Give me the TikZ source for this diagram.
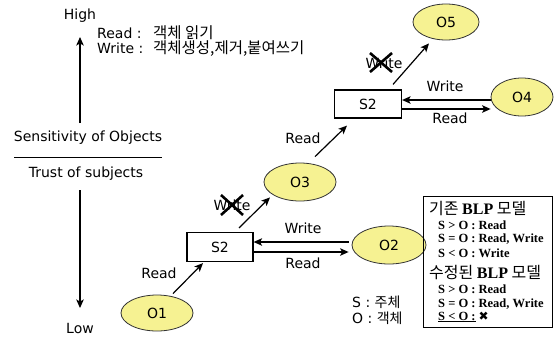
\documentclass[tikz,border=0pt]{standalone}
\usepackage{fontspec}
\setmainfont{DejaVu Sans}
\newfontfamily\krfont{Noto Sans CJK KR}
\newfontfamily\serf{Liberation Serif}
\usetikzlibrary{arrows.meta,shapes.geometric}
\definecolor{objfill}{RGB}{246,242,146}
\tikzset{
  lbl/.style={inner sep=0pt, font=\fontsize{14}{16}\selectfont},
  obj/.style={ellipse, draw=black!80, line width=0.8pt, fill=objfill,
    inner sep=0pt, font=\fontsize{14}{16}\selectfont},
  subj/.style={draw, line width=1.2pt, minimum width=66pt, minimum height=29pt,
    inner sep=0pt, font=\fontsize{14}{16}\selectfont},
  arr/.style={line width=1.2pt, -{Stealth[length=8.5pt,width=7.5pt,inset=2pt]}},
  xmark/.style={line width=2.6pt},
  legrow/.style={anchor=west, inner sep=0pt, font=\serf\bfseries\fontsize{12.5}{14}\selectfont},
  legtitle/.style={anchor=west, inner sep=0pt, font=\fontsize{16}{18}\selectfont},
}
\newcommand{\opkey}[1]{\makebox[56pt][l]{#1}}
\begin{document}
\begin{tikzpicture}[x=1pt,y=-1pt]
\path[use as bounding box] (0,0) rectangle (556,338);

% vertical axis
\node[lbl] (high) at (80,16) {High};
\node[lbl] (low) at (80,328) {Low};
\node[lbl] (sens) at (88,138) {Sensitivity of Objects};
\node[lbl] (trust) at (86,174) {Trust of subjects};
\draw[line width=1pt] (14,157) -- (162,157);
\coordinate (upfoot) at (80,123);
\coordinate (uptip) at (80,37);
\coordinate (downtop) at (80,190);
\coordinate (downtip) at (80,308);
\draw[arr] (upfoot) -- (uptip);
\draw[arr] (downtop) -- (downtip);

% access notes (anchored at the baseline of the last line)
\node[inner sep=0pt, anchor=base west, align=left,
  font=\fontsize{14}{13.5}\selectfont] (accnote) at (97,53.5)
  {\opkey{Read :}{\krfont\fontsize{15.5}{13.5}\selectfont 객체 읽기}\\
   \opkey{Write :}{\krfont\fontsize{15.5}{13.5}\selectfont 객체생성,제거,붙여쓰기}};

% objects and subjects
\node[obj, minimum width=72pt, minimum height=36pt] (o1) at (157,313) {O1};
\node[obj, minimum width=74pt, minimum height=38pt] (o2) at (389,245) {O2};
\node[obj, minimum width=72pt, minimum height=38pt] (o3) at (300,182) {O3};
\node[obj, minimum width=62pt, minimum height=38pt] (o4) at (522,97) {O4};
\node[obj, minimum width=66pt, minimum height=36pt] (o5) at (446,22) {O5};
\node[subj] (s2a) at (220,247) {S2};
\node[subj, minimum width=67pt, minimum height=28pt] (s2b) at (368,104) {S2};

% lower subject
\draw[arr] ([shift={(16,-1)}]o1.north) -- ([shift={(-17,1)}]s2a.south);
\node[lbl] (rdA) at (159,273) {Read};
\draw[arr, shorten >=3pt] ([yshift=-5]s2a.east) -- ([yshift=-5]s2a.east -| o2.west);
\draw[arr, shorten <=3pt] ([yshift=5]s2a.east -| o2.west) -- ([yshift=5]s2a.east);
\node[lbl] (wrB) at (303,228) {Write};
\node[lbl] (rdB) at (303,263) {Read};
\draw[arr] ([shift={(19,-4)}]s2a.north) -- ([shift={(-30,-4)}]o3.south);
\node[lbl] (wrC) at (232,205) {Write};
\draw[xmark] ([shift={(-11,-10)}]wrC.center) -- ([shift={(11,10)}]wrC.center);
\draw[xmark] ([shift={(11,-10)}]wrC.center) -- ([shift={(-11,10)}]wrC.center);

% upper subject
\draw[arr] ([shift={(15,-6)}]o3.north) -- ([shift={(-21,7)}]s2b.south);
\node[lbl] (rdD) at (303,138) {Read};
\draw[arr] ([yshift=-5]s2b.east) -- ([yshift=-5]s2b.east -| o4.west);
\draw[arr] ([yshift=4]s2b.east -| o4.west) -- ([yshift=4]s2b.east);
\node[lbl] (wrE) at (445,86) {Write};
\node[lbl] (rdE) at (450,118) {Read};
\draw[arr] ([shift={(25,-5)}]s2b.north) -- ([shift={(-17,3)}]o5.south);
\node[lbl] (wrF) at (384,63) {Write};
\draw[xmark] ([shift={(-14,-10)}]wrF.center) -- ([shift={(8,9)}]wrF.center);
\draw[xmark] ([shift={(8,-10)}]wrF.center) -- ([shift={(-14,9)}]wrF.center);

% symbol legend
\node[lbl, anchor=west] (legS) at (352,302) {S : {\krfont 주체}};
\node[lbl, anchor=west] (legO) at (352,318) {O : {\krfont 객체}};

% BLP rules box
\node[draw, line width=1pt, anchor=north west, minimum width=129pt,
  minimum height=131pt, inner sep=0pt] (rules) at (423,196) {};
\node[legtitle] (t1) at (429,209) {\krfont 기존 {\serf\bfseries BLP} 모델};
\node[legrow] (r1) at (438,225) {S > O : Read};
\node[legrow] (r2) at (438,239) {S = O : Read, Write};
\node[legrow] (r3) at (438,253) {S < O : Write};
\node[legtitle] (t2) at (429,273) {\krfont 수정된 {\serf\bfseries BLP} 모델};
\node[legrow] (r4) at (438,289) {S > O : Read};
\node[legrow] (r5) at (438,304) {S = O : Read, Write};
\node[legrow] (r6) at (438,317) {\underline{S < O :} {\fontspec{DejaVu Sans}\normalfont\fontsize{12}{13}\selectfont ✖}};
\end{tikzpicture}
\end{document}
